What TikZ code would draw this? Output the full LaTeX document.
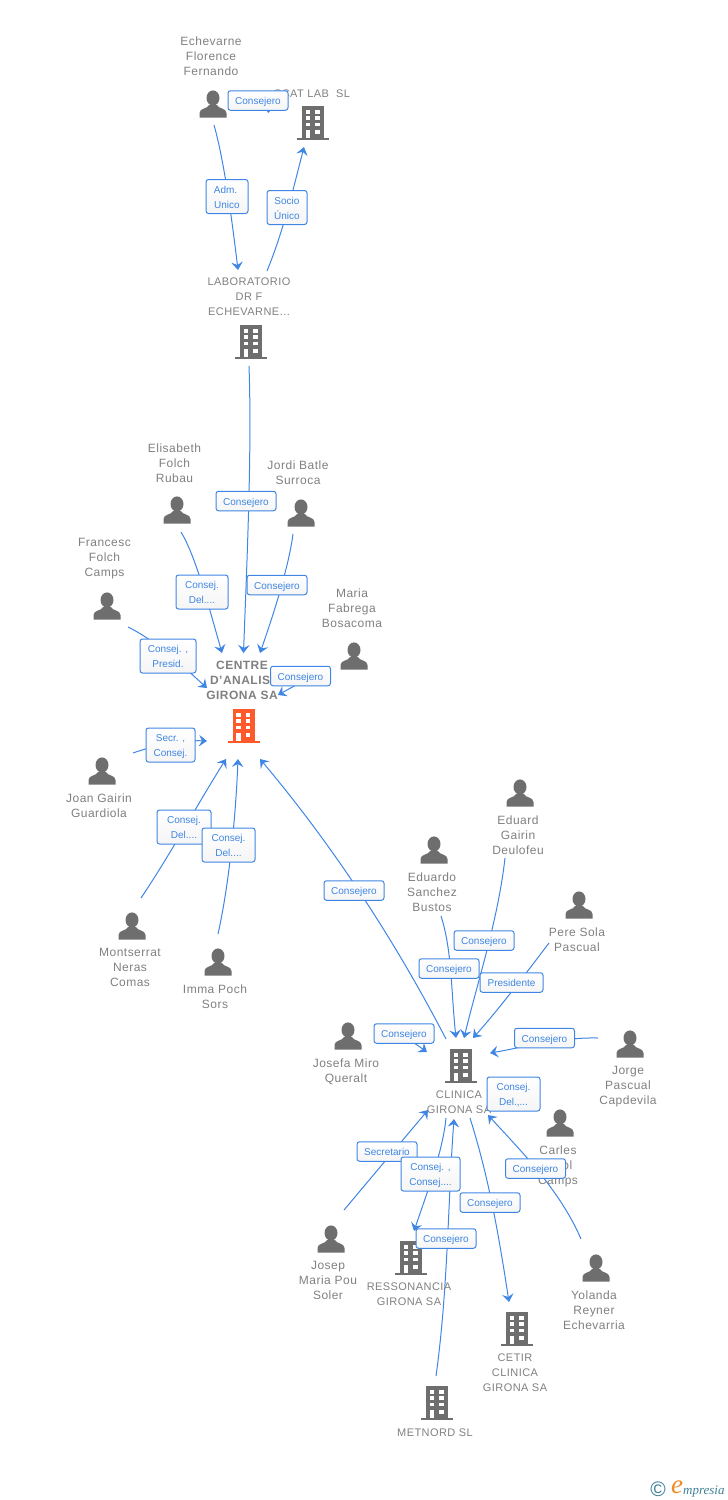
\documentclass[tikz,border=0pt]{standalone}
\usepackage{fontspec}
\setmainfont[LetterSpace=4]{Liberation Sans}
\newfontfamily\plainsans{Liberation Sans}
\newfontfamily\logoserif{Liberation Serif}
\usetikzlibrary{arrows.meta,backgrounds}
\definecolor{linkblue}{HTML}{3F86E4}
\definecolor{namegrey}{HTML}{808080}
\definecolor{icongrey}{HTML}{6E6E6E}
\definecolor{mainorange}{HTML}{FF5A2B}
\definecolor{logoblue}{HTML}{3F7F98}
\definecolor{logoorange}{HTML}{F08A24}
\tikzset{
  x=1pt,y=-1pt,
  edge/.style={draw=linkblue,line width=1pt,-{Stealth[length=8pt,width=11.5pt,inset=3pt]}},
  struts/.style={execute at begin node=\strut,execute at end node=\strut},
  tagbox/.style={draw=linkblue,line width=1pt,rounded corners=2.5pt,top color=white,bottom color=black!4,
    text=linkblue,font=\plainsans\fontsize{10}{15}\selectfont,align=center,inner sep=0pt},
  tagA/.style={tagbox,minimum width=60pt,minimum height=19.5pt,text height=8pt,text depth=0pt},
  tagB/.style={tagbox,minimum width=#1,minimum height=34pt,text height=23pt,text depth=0pt},
  person name/.style={text=namegrey,font=\fontsize{12}{15}\selectfont,align=center,inner sep=0pt,struts,yshift=-2pt},
  firm name/.style={text=namegrey,font=\fontsize{11}{15}\selectfont,align=center,inner sep=0pt,struts,yshift=-2pt},
  main name/.style={text=namegrey,font=\bfseries\fontsize{12}{15}\selectfont,align=center,inner sep=0pt,struts,yshift=-3pt},
  personspot/.style={minimum width=27pt,minimum height=27pt,inner sep=0pt},
  firmspot/.style={minimum width=32pt,minimum height=34pt,inner sep=0pt},
  personicon/.pic={
    \fill[icongrey] (0,-6) ellipse[x radius=6.5,y radius=7.6];
    \fill[icongrey] (-13.5,13.5) -- (-13.5,9) .. controls (-13.5,4) and (-5.5,5) .. (-4,1)
      -- (4,1) .. controls (5.5,5) and (13.5,4) .. (13.5,9) -- (13.5,13.5) -- cycle;
  },
  firmicon/.pic={
    \fill[#1] (-11,-17) rectangle (11,15);
    \fill[#1] (-16,15) rectangle (16,17);
    \foreach \r in {-13,-7,-0.5}{
      \fill[white] (-7.3,\r) rectangle (-2.7,\r+3.6);
      \fill[white] (2.3,\r) rectangle (6.9,\r+3.6);
    }
    \fill[white] (-7.3,6.5) rectangle (-2.7,15);
    \fill[white] (2.3,6.5) rectangle (6.9,11);
  }
}
\begin{document}
\begin{tikzpicture}
\useasboundingbox (0,0) rectangle (728,1500);

% icon spots
\foreach \n/\px/\py in {pEche/213/104,pElis/177/510,pJord/301/513,pFran/107/606,pMari/354/656,pJoan/102/771,
  pMont/132/926,pImma/218/962,pEdua/520/793,pSanc/434/850,pPere/579/905,pJosf/348/1036,pJorg/630/1044,
  pCarl/560/1123,pJosp/331/1239,pYola/596/1268}{
  \node[personspot] (\n) at (\px,\py) {};
  \pic at (\n) {personicon};
}
\foreach \n/\px/\py in {cScat/313/123,cLab/251/342,cClin/461/1066,cRess/411/1258,cCeti/517/1329,cMetn/437/1403}{
  \node[firmspot] (\n) at (\px,\py) {};
  \pic at (\n) {firmicon=icongrey};
}
\node[firmspot] (cCent) at (243.5,726) {};
\pic at (cCent) {firmicon=mainorange};

% names
\node[person name] (tEche) at (211,56) {Echevarne\\Florence\\Fernando};
\node[firm name] (tScat) at (312,92) {SCAT LAB\ \ SL};
\node[firm name] (tLab) at (249,297) {LABORATORIO\\DR F\\ECHEVARNE...};
\node[person name] (tElis) at (174.5,463) {Elisabeth\\Folch\\Rubau};
\node[person name] (tJord) at (298,472.5) {Jordi Batle\\Surroca};
\node[person name] (tFran) at (104.5,558) {Francesc\\Folch\\Camps};
\node[person name] (tMari) at (352,608) {Maria\\Fabrega\\Bosacoma};
\node[main name] (tCent) at (242,680) {CENTRE\\D'ANALISI\\GIRONA SA};
\node[person name] (tJoan) at (99,805.5) {Joan Gairin\\Guardiola};
\node[person name] (tMont) at (130,968) {Montserrat\\Neras\\Comas};
\node[person name] (tImma) at (215,996.5) {Imma Poch\\Sors};
\node[person name] (tEdua) at (518,835) {Eduard\\Gairin\\Deulofeu};
\node[person name] (tSanc) at (432,892) {Eduardo\\Sanchez\\Bustos};
\node[person name] (tPere) at (577,939.5) {Pere Sola\\Pascual};
\node[person name] (tJosf) at (346,1070.5) {Josefa Miro\\Queralt};
\node[person name] (tJorg) at (628,1086) {Jorge\\Pascual\\Capdevila};
\node[firm name] (tClin) at (459,1102.5) {CLINICA\\GIRONA SA};
\node[person name] (tCarl) at (558,1165) {Carles\\Pujol\\Camps};
\node[person name] (tJosp) at (328,1281) {Josep\\Maria Pou\\Soler};
\node[person name] (tYola) at (594,1310) {Yolanda\\Reyner\\Echevarria};
\node[firm name] (tRess) at (409,1294.5) {RESSONANCIA\\GIRONA SA};
\node[firm name] (tCeti) at (515,1373) {CETIR\\CLINICA\\GIRONA SA};
\node[firm name] (tMetn) at (435,1431) {METNORD SL};

% connectors
\begin{scope}[on background layer]
\draw[edge] ([shift={(22,-2)}]pEche.center) .. controls (255,98) and (271,98) .. ([shift={(-45,-10)}]cScat.center);
\draw[edge] ([shift={(1,21)}]pEche.center) .. controls (224,160) and (232,220) .. ([shift={(-13,-72)}]cLab.center);
\draw[edge] ([shift={(16,-71)}]cLab.center) .. controls (283,232) and (293,190) .. ([shift={(-9,24)}]cScat.center);
\draw[edge] ([shift={(-2,24)}]cLab.center) .. controls (252,450) and (247,560) .. ([shift={(0,-73)}]cCent.center);
\draw[edge] ([shift={(4,22)}]pElis.center) .. controls (195,555) and (207,600) .. ([shift={(-21.5,-73)}]cCent.center);
\draw[edge] ([shift={(-8,21)}]pJord.center) .. controls (289,565) and (275,610) .. ([shift={(16.5,-73)}]cCent.center);
\draw[edge] ([shift={(21,21)}]pFran.center) .. controls (155,640) and (185,668) .. ([shift={(-36.5,-38)}]cCent.center);
\draw[edge] ([shift={(-49,24)}]pMari.center) -- ([shift={(34.5,-31)}]cCent.center);
\draw[edge] ([shift={(31,-18)}]pJoan.center) .. controls (155,745) and (185,740) .. ([shift={(-36.5,15)}]cCent.center);
\draw[edge] ([shift={(9,-28)}]pMont.center) .. controls (170,855) and (200,800) .. ([shift={(-17.5,33)}]cCent.center);
\draw[edge] ([shift={(0,-28)}]pImma.center) .. controls (230,880) and (236,810) .. ([shift={(-5.5,33)}]cCent.center);
\draw[edge] ([shift={(-15,-27)}]cClin.center) .. controls (405,960) and (345,860) .. ([shift={(16.5,33)}]cCent.center);
\draw[edge] ([shift={(-15,65)}]pEdua.center) .. controls (498,920) and (478,980) .. ([shift={(3,-28)}]cClin.center);
\draw[edge] ([shift={(7,66)}]pSanc.center) .. controls (452,950) and (451,990) .. ([shift={(-5,-28)}]cClin.center);
\draw[edge] ([shift={(-30,38)}]pPere.center) .. controls (530,968) and (500,1008) .. ([shift={(12,-28)}]cClin.center);
\draw[edge] ([shift={(52,-3)}]pJosf.center) -- ([shift={(-34,-14)}]cClin.center);
\draw[edge] ([shift={(-32,-6)}]pJorg.center) .. controls (560,1037) and (520,1048) .. ([shift={(29,-13)}]cClin.center);
\draw[edge] ([shift={(-15,-29)}]pYola.center) .. controls (560,1190) and (520,1150) .. ([shift={(27,49)}]cClin.center);
\draw[edge] ([shift={(13,-29)}]pJosp.center) -- ([shift={(-33,44)}]cClin.center);
\draw[edge] ([shift={(-15,52)}]cClin.center) .. controls (443,1150) and (428,1190) .. ([shift={(3,-27)}]cRess.center);
\draw[edge] ([shift={(-1,-27)}]cMetn.center) .. controls (448,1290) and (448,1200) .. ([shift={(-7,53)}]cClin.center);
\draw[edge] ([shift={(9,52)}]cClin.center) .. controls (488,1175) and (498,1230) .. ([shift={(-8,-27)}]cCeti.center);
\end{scope}

% connector labels
\node[tagA] (l1) at (258,100.5) {Consejero};
\node[tagB=42pt] (l2) at (227,196.5) {Adm.\hspace*{3pt}\\Unico};
\node[tagB=40pt] (l3) at (287,207.5) {Socio\\Único};
\node[tagA] (l4) at (246,501) {Consejero};
\node[tagB=52pt] (l5) at (202,592) {Consej.\\Del....};
\node[tagA] (l6) at (277,585) {Consejero};
\node[tagB=56pt] (l7) at (168,656) {Consej. ,\\Presid.};
\node[tagA] (l8) at (300.5,676) {Consejero};
\node[tagB=49pt] (l9) at (170.5,745) {Secr. ,\\Consej.};
\node[tagB=54pt] (l10) at (184,827) {Consej.\\Del....};
\node[tagB=53pt] (l11) at (228.5,845) {Consej.\\Del....};
\node[tagA] (l12) at (354,890.5) {Consejero};
\node[tagA] (l13) at (484,940.5) {Consejero};
\node[tagA] (l14) at (449,968.5) {Consejero};
\node[tagA,minimum width=63pt] (l15) at (511.5,982.5) {Presidente};
\node[tagA] (l16) at (404,1033.5) {Consejero};
\node[tagA] (l17) at (544.5,1038) {Consejero};
\node[tagB=53pt] (l18) at (513.5,1094) {Consej.\\Del.,...};
\node[tagA] (l19) at (387,1151.5) {Secretario};
\node[tagB=59pt] (l20) at (430.5,1174) {Consej. ,\\Consej....};
\node[tagA] (l21) at (535.5,1168.5) {Consejero};
\node[tagA] (l22) at (490,1202.5) {Consejero};
\node[tagA] (l23) at (446,1238.5) {Consejero};

% logo
\node[inner sep=0pt,text=logoblue,font=\plainsans\fontsize{21}{21}\selectfont] (logoC) at (658,1489) {©};
\node[inner sep=0pt,text=logoorange,font=\logoserif\itshape\fontsize{27}{27}\selectfont] (logoE) at (677,1487) {e};
\node[inner sep=0pt,text=logoblue,anchor=base west,font=\logoserif\itshape\fontsize{13}{13}\selectfont] (logoT) at (683,1494) {mpresia};
\end{tikzpicture}
\end{document}
